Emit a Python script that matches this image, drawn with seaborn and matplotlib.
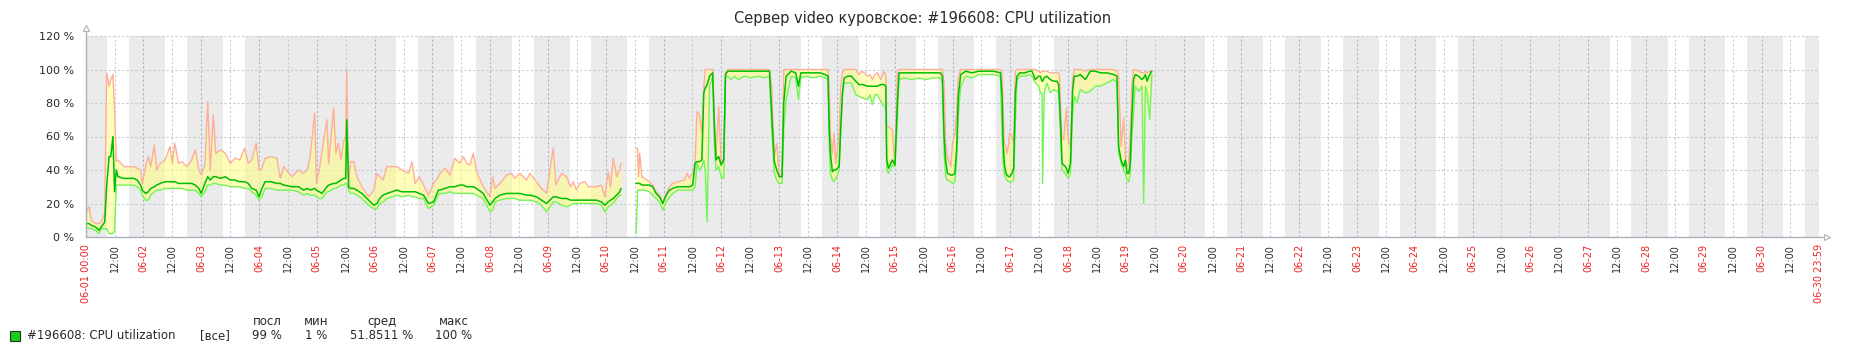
import numpy as np
import pandas as pd
import matplotlib
matplotlib.use("Agg")
import matplotlib.pyplot as plt
from matplotlib.patches import Rectangle
import seaborn as sns

# ---------------- data (hours since 06-01 00:00) ----------------
hours_a = [0, 1.4, 2.3, 4.1, 5.5, 6.5, 7.9, 8.7, 9.7, 10.4, 11.3, 12.0, 12.7, 13.4, 15.9, 18.7, 20, 21.4, 22.8, 23.5,
           24.9, 26, 27, 28.5, 29.5, 31, 33, 35, 36, 37, 38.5, 40, 42, 44, 45.5, 47, 48, 49.5, 50.7, 51.7,
           53, 54, 56, 58, 60, 62, 64, 66, 67.5, 69, 70.8, 72, 73.2, 74.5, 77, 79.4, 80.8, 82.2, 85.7, 88.4,
           90.5, 92, 93.3, 95.1, 95.8, 97, 98.1, 100.2, 100.9, 103, 103.9, 105, 106, 107.1, 108, 108.4, 109.2, 110, 111.3, 112.6,
           114.7, 117.5, 119.6, 121, 122.1, 123.5, 125.1, 129.3, 131.3, 134.1, 135.5, 136.9, 138.5, 140.3, 142.4, 144.5, 146.5, 147.1, 149.2, 151.3,
           153.3, 155.4, 156.8, 158.2, 159.6, 161, 162.3, 165.1, 167.9, 169, 170, 172, 174.8, 176.9, 178.2, 180.3, 183.1, 184.5, 187.2, 189.3,
           191.4, 192.8, 194.2, 195.3, 197.6, 199.7, 201.4, 202.5, 203.8, 205.2, 207.3, 208.7, 212.1, 214.2, 215.6, 217, 218, 219.1, 220.5, 221.8,
           222.3]
max_a = [14, 18, 10, 8, 8, 9, 14, 98, 90, 94, 97, 76, 45, 46, 42, 42, 42, 41, 40, 32,
         42, 48, 42, 55, 40, 44, 46, 54, 44, 56, 44, 45, 42, 46, 52, 40, 37, 43, 81, 40,
         73, 50, 52, 50, 44, 47, 46, 53, 44, 46, 56, 40, 41, 47, 48, 47, 35, 42, 36, 40,
         38, 40, 49, 74, 32, 40, 51, 70, 44, 77, 50, 56, 46, 57, 60, 100, 32, 45, 45, 36,
         30, 24, 28, 38, 36, 34, 42, 42, 40, 38, 45, 32, 36, 31, 25, 32, 36, 38, 41, 37,
         47, 44, 48, 44, 43, 50, 39, 30, 24, 36, 29, 32, 37, 38, 35, 38, 34, 38, 33, 29,
         26, 40, 53, 31, 38, 36, 30, 33, 28, 32, 33, 30, 30, 31, 24, 39, 30, 47, 36, 40,
         44]
avg_a = [8, 8, 7, 6, 4, 6, 9, 30, 48, 48, 60, 27, 40, 36, 35, 35, 35, 34, 31, 28,
         26, 27, 29, 30, 31, 32, 33, 33, 33, 33, 32, 32, 32, 32, 31, 29, 26, 32, 36, 34,
         36, 36, 35, 36, 34, 34, 33, 33, 32, 29, 28, 24, 29, 33, 33, 32, 32, 31, 30, 30,
         28, 29, 28, 29, 28, 27, 26, 30, 31, 32, 32, 33, 34, 35, 35, 70, 30, 29, 29, 28,
         26, 22, 19, 20, 23, 25, 26, 28, 27, 27, 27, 27, 26, 25, 20, 21, 28, 28, 29, 30,
         30, 31, 31, 30, 30, 30, 29, 26, 19, 21, 23, 25, 26, 26, 26, 26, 25, 25, 24, 22,
         20, 22, 24, 24, 23, 23, 22, 22, 22, 22, 22, 22, 22, 21, 19, 21, 22, 23, 25, 27,
         29]
min_a = [6, 5, 5, 4, 2, 5, 5, 5, 2, 2, 2, 4, 31, 31, 31, 31, 31, 30, 28, 25,
         22, 22, 25, 27, 28, 28, 29, 29, 29, 29, 29, 29, 28, 28, 28, 26, 24, 27, 31, 31,
         32, 32, 31, 31, 30, 30, 30, 29, 29, 27, 25, 22, 24, 29, 29, 28, 28, 28, 28, 27,
         25, 26, 25, 25, 24, 23, 23, 27, 27, 29, 29, 30, 31, 31, 32, 32, 28, 26, 26, 25,
         23, 19, 17, 17, 20, 21, 23, 25, 24, 25, 24, 24, 23, 23, 17, 19, 25, 26, 26, 27,
         26, 26, 26, 26, 26, 26, 25, 23, 15, 16, 21, 22, 23, 23, 23, 22, 22, 22, 21, 19,
         15, 18, 21, 21, 19, 18, 19, 20, 20, 20, 20, 20, 20, 19, 15, 18, 19, 20, 23, 25,
         25]

hours_b = [228.6, 229.2, 229.6, 230.1, 231, 232.1, 234.1, 235.5, 236.9, 238.3, 239.7, 241.1, 242.5, 243.8, 245.9, 248.7, 249.8, 250.8, 252.1, 253.1,
           253.9, 254.9, 255.9, 256.7, 257.3, 258.1, 259.1, 260.4, 261.1, 261.8, 262.9, 263.9, 265, 265.7, 266.7, 268, 269.5, 271, 273.6, 276,
           279.1, 282, 284, 284.9, 286, 287, 288.1, 289.2, 289.9, 290.9, 293, 294.9, 296, 297, 299, 302, 305, 307, 308.3, 308.8,
           309.3, 310.1, 310.8, 311.5, 312.2, 312.9, 313.6, 314.3, 315, 316.4, 318, 319.8, 321.2, 322.6, 324.7, 325.7, 326.7, 327.8, 328.8, 330.2,
           331.6, 332.3, 332.7, 333.4, 335, 336.1, 337.1, 337.8, 340, 343, 346, 349, 352, 355, 355.8, 356.5, 357.2, 357.9, 359.3, 360,
           361, 361.7, 362.4, 363.4, 365.5, 368, 371, 374, 377, 379.9, 380.6, 381, 381.5, 382.2, 382.6, 383.3, 383.7, 384.7, 385.4, 386.1,
           386.8, 388, 390, 392, 393, 394.4, 395.8, 396.5, 397.2, 397.4, 398.1, 399.2, 400.6, 402, 403.4, 404.1, 404.5, 405, 405.5, 406.2,
           406.9, 407.3, 408, 409, 409.9, 410.6, 411.7, 413.1, 415.2, 417.2, 419.3, 421.4, 424.2, 426.9, 428.3, 429, 430, 431.1, 431.8, 432.5,
           433.2, 433.8, 434.5, 435.2, 435.9, 437.3, 438.7, 439.4, 440.1, 440.8, 441.9, 442.8]
max_b = [53, 53, 36, 50, 36, 35, 33, 31, 27, 25, 21, 26, 30, 32, 33, 34, 38, 35, 38, 45,
         75, 73, 62, 89, 100, 100, 100, 100, 72, 48, 78, 44, 47, 98, 100, 100, 100, 100, 100, 100,
         100, 100, 100, 90, 48, 56, 36, 37, 100, 100, 100, 100, 100, 100, 100, 100, 100, 100, 100, 90,
         60, 50, 62, 44, 52, 62, 90, 98, 100, 100, 100, 100, 97, 99, 96, 97, 94, 97, 98, 94,
         99, 96, 66, 66, 64, 44, 98, 100, 100, 100, 100, 100, 100, 100, 100, 92, 56, 48, 42, 56,
         62, 75, 95, 100, 100, 100, 100, 100, 100, 100, 98, 80, 56, 54, 50, 55, 62, 60, 56, 99,
         100, 100, 100, 100, 100, 100, 99, 98, 99, 99, 99, 99, 98, 98, 98, 98, 95, 72, 60, 58,
         70, 77, 58, 54, 95, 100, 100, 100, 99, 100, 100, 100, 100, 100, 99, 96, 54, 71, 48, 42,
         44, 62, 90, 100, 100, 99, 98, 98, 99, 98, 99, 99]
avg_b = [32, 32, 32, 32, 31, 31, 31, 30, 26, 24, 20, 25, 28, 29, 30, 30, 30, 30, 31, 44,
         45, 45, 46, 86, 89, 91, 96, 98, 66, 46, 48, 43, 46, 97, 99, 99, 99, 99, 99, 99,
         99, 99, 99, 74, 45, 40, 36, 36, 80, 96, 99, 98, 90, 98, 98, 98, 98, 97, 96, 65,
         50, 39, 40, 40, 41, 42, 66, 86, 95, 96, 96, 93, 91, 91, 90, 90, 90, 90, 90, 91,
         91, 90, 46, 41, 46, 43, 80, 98, 98, 98, 98, 98, 98, 98, 96, 60, 45, 38, 37, 37,
         38, 52, 84, 97, 99, 98, 99, 99, 99, 98, 84, 58, 44, 38, 37, 36, 36, 38, 41, 86,
         96, 98, 98, 99, 99, 94, 96, 96, 93, 93, 95, 96, 94, 93, 93, 91, 80, 64, 44, 43,
         42, 41, 38, 44, 88, 96, 96, 97, 94, 99, 99, 98, 98, 97, 96, 54, 46, 42, 46, 38,
         38, 44, 72, 94, 97, 96, 94, 95, 97, 93, 97, 99]
min_b = [2, 28, 28, 28, 28, 28, 27, 25, 23, 21, 16, 21, 24, 26, 28, 28, 28, 28, 28, 30,
         44, 40, 42, 46, 40, 9, 90, 96, 54, 40, 42, 36, 35, 95, 96, 94, 96, 94, 96, 95,
         96, 95, 96, 64, 38, 34, 32, 32, 64, 82, 96, 95, 82, 95, 96, 95, 96, 95, 94, 55,
         38, 34, 33, 35, 37, 40, 64, 84, 92, 92, 92, 85, 84, 83, 82, 85, 79, 85, 85, 81,
         78, 78, 40, 38, 43, 42, 70, 94, 95, 94, 95, 94, 95, 95, 92, 50, 36, 34, 33, 32,
         33, 45, 72, 90, 96, 95, 97, 97, 97, 96, 60, 45, 38, 35, 34, 33, 33, 33, 34, 68,
         94, 96, 96, 97, 96, 92, 90, 86, 86, 32, 86, 92, 86, 88, 87, 86, 74, 55, 40, 39,
         38, 37, 35, 38, 74, 84, 80, 88, 86, 87, 90, 90, 92, 94, 92, 50, 44, 40, 38, 34,
         33, 38, 60, 74, 90, 87, 90, 20, 90, 87, 70, 97]

WEEKEND_DAYS = [4, 5, 11, 12, 18, 19, 25, 26]
WORK_START, WORK_END = 9, 18
TITLE = "Сервер video куровское: #196608: CPU utilization"
ITEM = "#196608: CPU utilization"
STAT_NAMES = ["посл", "мин", "сред", "макс"]
STAT_VALUES = ["99 %", "1 %", "51.8511 %", "100 %"]
Y_TICKS = [0, 20, 40, 60, 80, 100, 120]

frames = []
for seg, (h, mx, av, mn) in enumerate([(hours_a, max_a, avg_a, min_a), (hours_b, max_b, avg_b, min_b)]):
    frames.append(pd.DataFrame({"h": h, "vmax": mx, "vavg": av, "vmin": mn, "seg": seg}))
df = pd.concat(frames, ignore_index=True)

# ---------------- figure ----------------
sns.set_style("white")
plt.rcParams["font.family"] = ["DejaVu Sans"]
W, H = 1850, 354
fig = plt.figure(figsize=(W / 100, H / 100), dpi=100)
x0, x1, ytop, ybot = 85.7, 1819.3, 36, 237
ax = fig.add_axes([x0 / W, (H - ybot) / H, (x1 - x0) / W, (ybot - ytop) / H])
ax.set_xlim(0, 720)
ax.set_ylim(0, 120)
for s in ax.spines.values():
    s.set_visible(False)

# non-working time shading
gray = "#EBEBEB"
for d in range(1, 31):
    s = (d - 1) * 24
    if d in WEEKEND_DAYS:
        ax.axvspan(s, s + 24, color=gray, lw=0, zorder=0)
    else:
        ax.axvspan(s, s + WORK_START, color=gray, lw=0, zorder=0)
        ax.axvspan(s + WORK_END, s + 24, color=gray, lw=0, zorder=0)

# grid
for v in Y_TICKS[1:]:
    ax.axhline(v, color="#C4CBD2", lw=0.8, ls=(0, (2, 2)), zorder=1)
for t in range(12, 720, 12):
    c = "#A9B5BF" if t % 24 == 0 else "#C4CBD2"
    ax.axvline(t, color=c, lw=0.8, ls=(0, (2, 2)), zorder=1)
ax.axvline(720, color="#C4CBD2", lw=0.8, ls=(0, (2, 2)), zorder=1)

# fill between min and max
for seg, g in df.groupby("seg"):
    ax.fill_between(g["h"], g["vmin"], g["vmax"], color="#FFFF80", alpha=0.55, lw=0, zorder=2)

sns.lineplot(data=df, x="h", y="vmax", units="seg", estimator=None, color="#FFAE9C", lw=1.0, ax=ax, zorder=3, legend=False)
sns.lineplot(data=df, x="h", y="vmin", units="seg", estimator=None, color="#70F656", lw=1.0, ax=ax, zorder=4, legend=False)
sns.lineplot(data=df, x="h", y="vavg", units="seg", estimator=None, color="#00BE00", lw=1.1, ax=ax, zorder=5, legend=False)
ax.set_xlabel("")
ax.set_ylabel("")

# axes lines + arrows
axc = "#A8B2BC"
ax.plot([0, 0], [0, 123], color=axc, lw=1, clip_on=False, zorder=6)
ax.plot([0, 721.5], [0, 0], color=axc, lw=1, clip_on=False, zorder=6)
ax.plot([0], [124.6], marker="^", ms=5, mfc="white", mec=axc, mew=0.8, clip_on=False, zorder=7)
ax.plot([723.3], [0], marker=">", ms=5, mfc="white", mec=axc, mew=0.8, clip_on=False, zorder=7)

# ticks
ax.set_yticks(Y_TICKS)
ax.set_yticklabels([f"{v} %" for v in Y_TICKS], fontsize=8, color="#2A2A2A")
xt = list(range(0, 720, 12)) + [720]
labels, colors = [], []
for t in xt:
    if t == 0:
        labels.append("06-01 00:00"); colors.append("#EE2222")
    elif t == 720:
        labels.append("06-30 23:59"); colors.append("#EE2222")
    elif t % 24 == 0:
        labels.append(f"06-{t // 24 + 1:02d}"); colors.append("#EE2222")
    else:
        labels.append("12:00"); colors.append("#2A2A2A")
ax.set_xticks(xt)
ax.set_xticklabels(labels, rotation=90, fontsize=7, va="top", ha="center")
for lab, c in zip(ax.get_xticklabels(), colors):
    lab.set_color(c)
ax.tick_params(axis="both", length=0)
ax.tick_params(axis="x", pad=5)
ax.tick_params(axis="y", pad=8)

# title
fig.text(923 / W, 1 - 19 / H, TITLE, ha="center", va="center", fontsize=10.5, color="#2A2A2A")

# legend
fig.patches.append(Rectangle((10 / W, 1 - 341 / H), 10 / W, 10 / H, transform=fig.transFigure,
                             facecolor="#1ECC1E", edgecolor="#1A3A1A", lw=0.8))
fs = 8.5
fig.text(27 / W, 1 - 335.5 / H, ITEM, ha="left", va="center", fontsize=fs, color="#2A2A2A")
fig.text(200 / W, 1 - 335.5 / H, "[все]", ha="left", va="center", fontsize=fs, color="#2A2A2A")
for xc, nm, vl in zip([267, 316, 382, 454], STAT_NAMES, STAT_VALUES):
    fig.text(xc / W, 1 - 321.5 / H, nm, ha="center", va="center", fontsize=fs, color="#2A2A2A")
    fig.text(xc / W, 1 - 335.5 / H, vl, ha="center", va="center", fontsize=fs, color="#2A2A2A")

fig.savefig("out.png", dpi=100, facecolor="white")
